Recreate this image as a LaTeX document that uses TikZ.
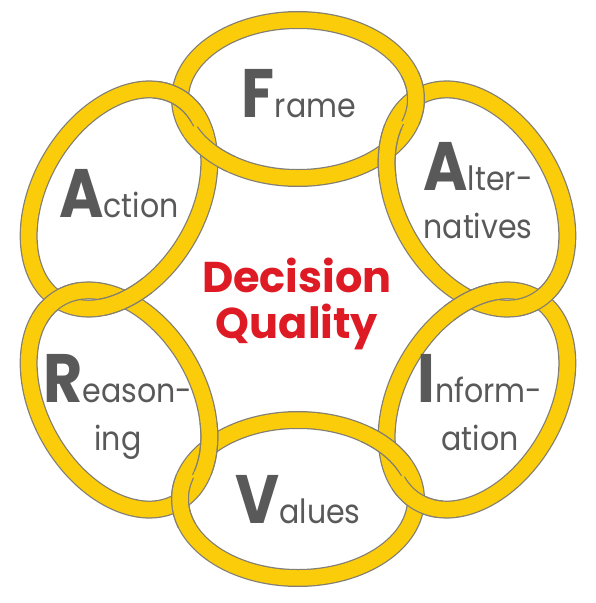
\documentclass[tikz,border=0pt]{standalone}
\usepackage{fontspec}
\setmainfont{Poppins}
\newfontfamily\linkfont{Poppins}[FakeStretch=0.9]
\newfontfamily\capfont{Poppins}[FakeStretch=0.88]
\usepackage{tikz}

\definecolor{ringyellow}{RGB}{250,204,10}
\definecolor{ringgray}{RGB}{130,126,116}
\definecolor{labelgray}{RGB}{89,89,89}
\definecolor{dqred}{RGB}{222,27,36}

\newcommand{\initial}[1]{{\capfont\bfseries\fontsize{39}{39}\selectfont #1}}
\newcommand{\ringat}[4]{\draw[#4, rotate around={#3:(#1,#2)}] (#1,#2) ellipse [x radius=118, y radius=79];}

\begin{document}
\begin{tikzpicture}[x=0.02cm, y=0.02cm,
    ringedge/.style = {draw=ringgray, line width=0.36cm},
    ringcore/.style = {draw=ringyellow, line width=0.31cm},
    linktext/.style = {text=labelgray, font=\linkfont\fontsize{19}{27.2}\selectfont, align=center, anchor=base},
    dqtext/.style = {text=dqred, font=\bfseries\fontsize{24.5}{26.1}\selectfont, align=center, anchor=base}]
    \useasboundingbox (-298,-304) rectangle (298,299);
    % Rings
    \foreach \rx/\ry/\ra in {0/200/0, 179/100/-60, 179/-101/60, 0/-200/0, -179/-101/-60, -179/100/60}
    {
        \ringat{\rx}{\ry}{\ra}{ringedge}
        \ringat{\rx}{\ry}{\ra}{ringcore}
    }
    % Crossings: redraw the ring that lies on top
    \foreach \cx/\cy/\rx/\ry/\ra in {118/201/0/200/0, 89/148/179/100/-60,
        242/0/179/100/-60, 172/0/179/-101/60,
        118/-202/179/-101/60, 89/-149/0/-200/0,
        -118/-202/0/-200/0, -89/-149/-179/-101/-60,
        -242/0/-179/-101/-60, -172/0/-179/100/60,
        -118/201/-179/100/60, -89/148/0/200/0}
    {
        \begin{scope}
            \clip (\cx,\cy) circle (27);
            \ringat{\rx}{\ry}{\ra}{ringedge}
        \end{scope}
        \begin{scope}
            \clip (\cx,\cy) circle (29);
            \ringat{\rx}{\ry}{\ra}{ringcore}
        \end{scope}
    }
    % Labels
    \node[linktext] (frame) at (1,182) {\initial{F}rame};
    \node[linktext] (altern) at (180,61) {\initial{A}lter-\\natives};
    \node[linktext] (inform) at (182,-151) {\initial{I}nform-\\ation};
    \node[linktext] (values) at (0,-224) {\initial{V}alues};
    \node[linktext] (reason) at (-180,-151) {\initial{R}eason-\\ing};
    \node[linktext] (action) at (-179,82) {\initial{A}ction};
    \node[dqtext] (dq) at (-1,-39) {Decision\\Quality};
\end{tikzpicture}
\end{document}
